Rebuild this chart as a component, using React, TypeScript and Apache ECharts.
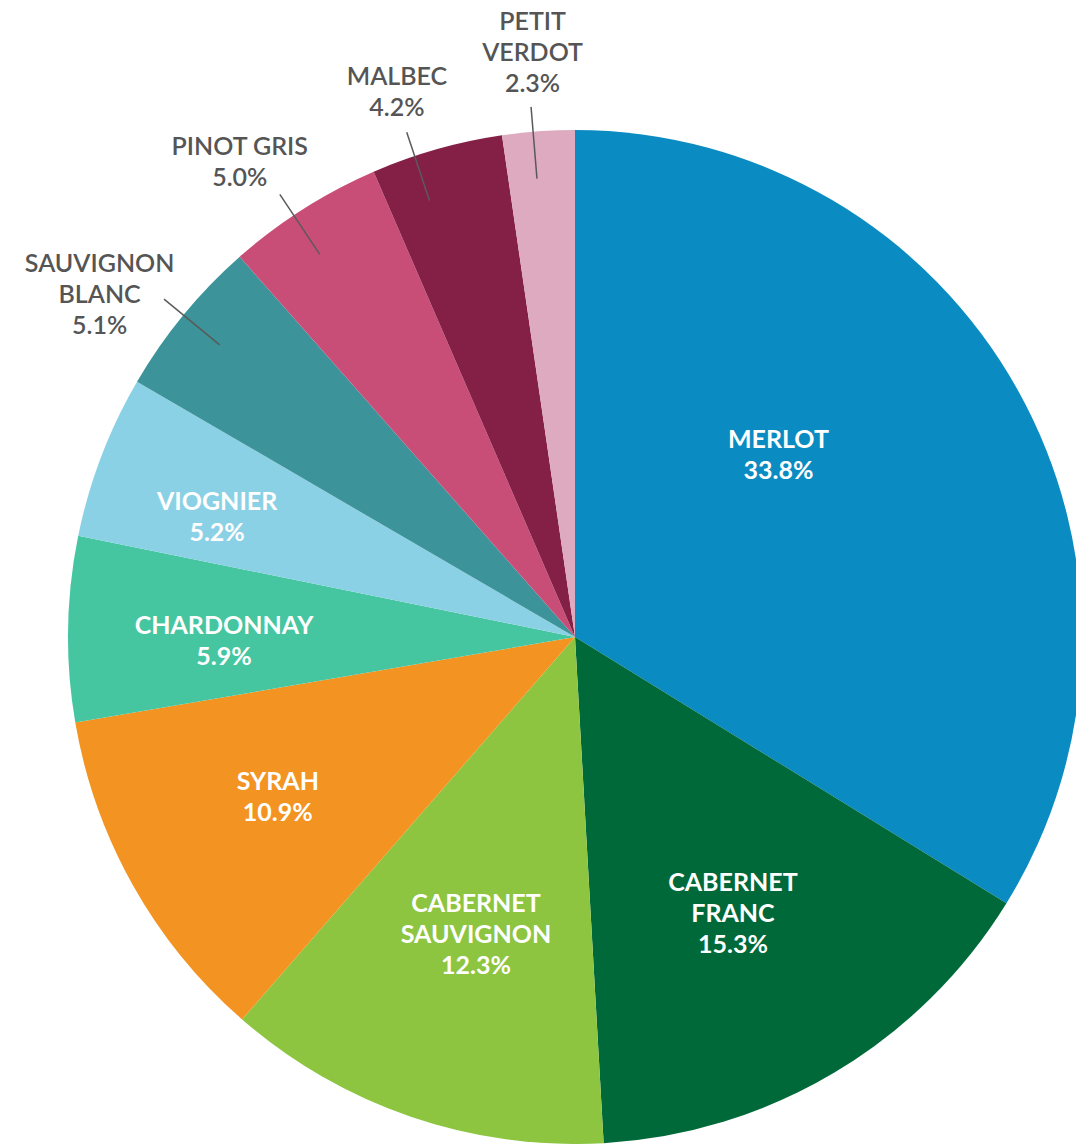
import React, { useEffect, useRef } from 'react';
import * as echarts from 'echarts';

// ---- data ----
const CATEGORIES = [
  'MERLOT',
  'CABERNET\nFRANC',
  'CABERNET\nSAUVIGNON',
  'SYRAH',
  'CHARDONNAY',
  'VIOGNIER',
  'SAUVIGNON\nBLANC',
  'PINOT GRIS',
  'MALBEC',
  'PETIT\nVERDOT',
];
const SHARES = [33.8, 15.3, 12.3, 10.9, 5.9, 5.2, 5.1, 5.0, 4.2, 2.3];
const COLORS = [
  '#0A8BC1',
  '#00693A',
  '#8DC541',
  '#F39322',
  '#45C6A0',
  '#8BD1E6',
  '#3C9399',
  '#C94E77',
  '#842046',
  '#DDAABF',
];
const OUTER_LABEL = [false, false, false, false, false, false, true, true, true, true];

// ---- layout tuning (label distance from centre in px, angular shifts from slice mid-angle in degrees) ----
const LABEL_RADIUS = [274, 317, 312, 337, 351, 378, 587, 583, 575, 588];
const LABEL_SHIFT = [-12.9, 0.9, -0.4, 1.2, -1.3, -2.1, -3.5, -2.7, -2.2, 0];
const LEADER_SHIFT = [0, 0, 0, 0, 0, 0, 0, -1.3, -2.6, -0.6];

const CX = 575;
const CY = 637;
const R = 507;
const LEADER_START = 460;
const LEADER_LEN = 72;

export default function App() {
  const ref = useRef<HTMLDivElement>(null);

  useEffect(() => {
    if (!ref.current) return;
    const chart = echarts.init(ref.current, null, { renderer: 'svg' });
    const base = CATEGORIES.map((name, i) => ({ name, value: SHARES[i] }));
    const rad = Math.PI / 180;

    chart.setOption({
      animation: false,
      backgroundColor: '#ffffff',
      series: [
        {
          type: 'pie',
          center: [CX, CY],
          radius: R,
          startAngle: 90,
          clockwise: true,
          silent: true,
          label: { show: false },
          labelLine: { show: false },
          itemStyle: { borderWidth: 0 },
          data: base.map((d, i) => ({ ...d, itemStyle: { color: COLORS[i] } })),
        },
        {
          type: 'pie',
          z: 5,
          center: [CX, CY],
          radius: LEADER_START,
          startAngle: 90,
          clockwise: true,
          silent: true,
          avoidLabelOverlap: false,
          itemStyle: { color: 'rgba(0,0,0,0)', borderWidth: 0 },
          label: {
            show: true,
            position: 'outside',
            formatter: (p: any) => `${p.name}\n${Number(p.value).toFixed(1)}%`,
            fontFamily: 'Lato',
            fontSize: 25,
            lineHeight: 31,
            width: 280,
            overflow: 'none',
            align: 'center',
          },
          labelLine: {
            show: true,
            length: LEADER_LEN,
            length2: 0,
            smooth: false,
            lineStyle: { color: '#5a5a5a', width: 1.5 },
          },
          labelLayout: (params: any) => {
            const i = params.dataIndex;
            const pts = params.labelLinePoints;
            if (!pts || pts.length < 2) return {};
            const p0 = pts[0];
            const p1 = pts[1];
            const dx = p1[0] - p0[0];
            const dy = p1[1] - p0[1];
            const len = Math.hypot(dx, dy) || 1;
            const ux = dx / len;
            const uy = dy / len;
            const cx = p0[0] - ux * LEADER_START;
            const cy = p0[1] - uy * LEADER_START;
            const mid = Math.atan2(uy, ux);
            const th = mid + LABEL_SHIFT[i] * rad;
            const lt = mid + LEADER_SHIFT[i] * rad;
            const a: number[] = [cx + Math.cos(lt) * LEADER_START, cy + Math.sin(lt) * LEADER_START];
            const b: number[] = [
              cx + Math.cos(lt) * (LEADER_START + LEADER_LEN),
              cy + Math.sin(lt) * (LEADER_START + LEADER_LEN),
            ];
            return {
              x: cx + Math.cos(th) * LABEL_RADIUS[i],
              y: cy + Math.sin(th) * LABEL_RADIUS[i],
              align: 'center',
              verticalAlign: 'middle',
              labelLinePoints: [a, b, b.slice()],
            };
          },
          data: base.map((d, i) => ({
            ...d,
            label: OUTER_LABEL[i]
              ? { color: '#555555', fontWeight: 600 }
              : { color: '#ffffff', fontWeight: 'bold' },
            labelLine: OUTER_LABEL[i] ? {} : { lineStyle: { opacity: 0 } },
          })),
        },
      ],
    });

    return () => chart.dispose();
  }, []);

  return (
    <div
      ref={ref}
      style={{ position: 'fixed', left: 0, top: 0, width: 1076, height: 1144 }}
    />
  );
}
